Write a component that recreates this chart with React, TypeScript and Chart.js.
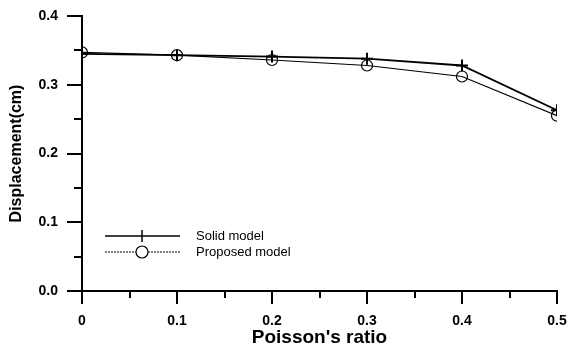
import React, { useEffect, useRef } from "react";
import { Chart, registerables } from "chart.js";

Chart.register(...registerables);

const poissonRatios = [0, 0.1, 0.2, 0.3, 0.4, 0.5];
const solidModel = [0.345, 0.343, 0.341, 0.338, 0.328, 0.263];
const proposedModel = [0.347, 0.343, 0.336, 0.328, 0.312, 0.255];
const seriesNames = ["Solid model", "Proposed model"];
const xTitle = "Poisson's ratio";
const yTitle = "Displacement(cm)";
const xMajorTicks = [0, 0.1, 0.2, 0.3, 0.4, 0.5];
const yMajorTicks = [0, 0.1, 0.2, 0.3, 0.4];
const xMinorTicks = [0.05, 0.15, 0.25, 0.35, 0.45];
const yMinorTicks = [0.05, 0.15, 0.25, 0.35];

const ticksAndLegend = {
  id: "ticksAndLegend",
  afterDraw(chart: any) {
    const ctx = chart.ctx;
    const xs = chart.scales.x;
    const ys = chart.scales.y;
    const area = chart.chartArea;
    ctx.save();
    ctx.strokeStyle = "#000";
    ctx.lineWidth = 2;
    const xt = (vals: number[], len: number) =>
      vals.forEach((v) => {
        const px = Math.round(xs.getPixelForValue(v));
        ctx.beginPath();
        ctx.moveTo(px, area.bottom);
        ctx.lineTo(px, area.bottom + len);
        ctx.stroke();
      });
    const yt = (vals: number[], len: number) =>
      vals.forEach((v) => {
        const py = Math.round(ys.getPixelForValue(v));
        ctx.beginPath();
        ctx.moveTo(area.left, py);
        ctx.lineTo(area.left - len, py);
        ctx.stroke();
      });
    xt(xMajorTicks, 13);
    xt(xMinorTicks, 7);
    yt(yMajorTicks, 15);
    yt(yMinorTicks, 8);
    // legend
    const lx0 = area.left + 23;
    const lx1 = area.left + 98;
    const mx = area.left + 60;
    const tx = area.left + 114;
    const y1 = 236;
    const y2 = 252;
    ctx.lineWidth = 1.5;
    ctx.setLineDash([]);
    ctx.beginPath();
    ctx.moveTo(lx0, y1);
    ctx.lineTo(lx1, y1);
    ctx.stroke();
    ctx.beginPath();
    ctx.moveTo(mx, y1 - 6);
    ctx.lineTo(mx, y1 + 6);
    ctx.stroke();
    ctx.lineWidth = 1;
    ctx.setLineDash([2, 1]);
    ctx.beginPath();
    ctx.moveTo(lx0, y2);
    ctx.lineTo(mx - 6, y2);
    ctx.moveTo(mx + 6, y2);
    ctx.lineTo(lx1, y2);
    ctx.stroke();
    ctx.setLineDash([]);
    ctx.lineWidth = 1.2;
    ctx.beginPath();
    ctx.arc(mx, y2, 6, 0, Math.PI * 2);
    ctx.stroke();
    ctx.fillStyle = "#000";
    ctx.font = "13px 'Liberation Sans', Arial, sans-serif";
    ctx.textBaseline = "middle";
    ctx.textAlign = "left";
    ctx.fillText(seriesNames[0], tx, y1);
    ctx.fillText(seriesNames[1], tx, y2);
    ctx.restore();
  },
};

export default function App() {
  const ref = useRef<HTMLCanvasElement>(null);
  useEffect(() => {
    if (!ref.current) return;
    const chart = new Chart(ref.current, {
      type: "line",
      data: {
        datasets: [
          {
            label: seriesNames[0],
            data: poissonRatios.map((x, i) => ({ x, y: solidModel[i] })),
            borderColor: "#000",
            borderWidth: 1.8,
            pointStyle: "cross",
            pointRadius: 6,
            pointBorderWidth: 2,
            pointBorderColor: "#000",
            pointBackgroundColor: "#000",
            tension: 0,
          },
          {
            label: seriesNames[1],
            data: poissonRatios.map((x, i) => ({ x, y: proposedModel[i] })),
            borderColor: "#000",
            borderWidth: 1.2,
            pointStyle: "circle",
            pointRadius: 5.5,
            pointBorderWidth: 1.2,
            pointBorderColor: "#000",
            pointBackgroundColor: "rgba(0,0,0,0)",
            tension: 0,
          },
        ],
      },
      options: {
        animation: false,
        responsive: false,
        layout: { padding: { left: 0, right: 14, top: 16, bottom: 0 } },
        plugins: { legend: { display: false }, tooltip: { enabled: false } },
        scales: {
          x: {
            type: "linear",
            min: 0,
            max: 0.5,
            afterFit: (s: any) => {
              s.height = 56;
              s.paddingLeft = 0;
              s.paddingRight = 0;
            },
            ticks: {
              stepSize: 0.1,
              color: "#000",
              padding: 9,
              font: { family: "'Liberation Sans', Arial, sans-serif", size: 14, weight: "bold" },
              callback: (v: any) => (Number(v) === 0 ? "0" : Number(v).toFixed(1)),
            },
            grid: { drawOnChartArea: false, tickLength: 13, color: "rgba(0,0,0,0)", tickColor: "rgba(0,0,0,0)" },
            border: { display: true, color: "#000", width: 2 },
            title: {
              display: true,
              text: xTitle,
              color: "#000",
              font: { family: "'Liberation Sans', Arial, sans-serif", size: 19, weight: "bold", lineHeight: 1 },
              padding: { top: 0, bottom: 0 },
            },
          },
          y: {
            type: "linear",
            min: 0,
            max: 0.4,
            afterFit: (s: any) => {
              s.width = 82;
              s.paddingTop = 0;
              s.paddingBottom = 0;
            },
            ticks: {
              stepSize: 0.1,
              color: "#000",
              padding: 9,
              font: { family: "'Liberation Sans', Arial, sans-serif", size: 14, weight: "bold" },
              callback: (v: any) => Number(v).toFixed(1),
            },
            grid: { drawOnChartArea: false, tickLength: 15, color: "rgba(0,0,0,0)", tickColor: "rgba(0,0,0,0)" },
            border: { display: true, color: "#000", width: 2 },
            title: {
              display: true,
              text: yTitle,
              color: "#000",
              font: { family: "'Liberation Sans', Arial, sans-serif", size: 16, weight: "bold", lineHeight: 1.2 },
              padding: { top: 7, bottom: 0 },
            },
          },
        },
      },
      plugins: [ticksAndLegend],
    });
    return () => chart.destroy();
  }, []);
  return (
    <div style={{ position: "fixed", left: 0, top: 0, width: 571, height: 347, background: "#fff" }}>
      <canvas ref={ref} width={571} height={347} style={{ width: 571, height: 347 }} />
    </div>
  );
}
